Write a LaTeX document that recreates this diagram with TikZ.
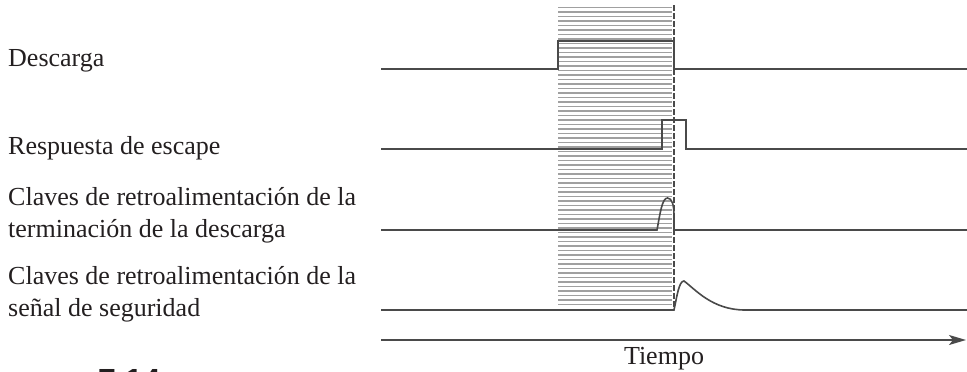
\documentclass[tikz,border=0pt]{standalone}
\usepackage{fontspec}
\setmainfont{Liberation Serif}
\newfontfamily\fignumfont{Liberation Sans}
\usetikzlibrary{arrows.meta}
\definecolor{sig}{HTML}{4A4A4A}
\definecolor{hatch}{HTML}{A0A0A0}
\definecolor{txt}{HTML}{231F20}
\begin{document}
\begin{tikzpicture}[x=1pt,y=-1pt,
  lbl/.style={anchor=base west,inner sep=0pt,text=txt,font=\fontsize{26}{32}\selectfont},
  signal/.style={draw=sig,line width=1.6pt,line join=miter},
  hatchline/.style={draw=hatch,line width=1.4pt},
  boundary/.style={draw=sig,line width=1.7pt,dash pattern=on 6pt off 2pt},
  axis/.style={draw=sig,line width=1.5pt,-{Stealth[length=17pt,width=10pt,inset=4pt]}}]
\useasboundingbox (0,0) rectangle (967,372);
% hatched interval
\foreach \k in {0,...,66}{
  \draw[hatchline] (558,{7.5+4.5*\k}) -- (672,{7.5+4.5*\k});
}
% coordinates
\coordinate (s1a) at (381,69); \coordinate (s1b) at (967,69);
\coordinate (s2a) at (381,149); \coordinate (s2b) at (967,149);
\coordinate (s3a) at (381,230); \coordinate (s3b) at (967,230);
\coordinate (s4a) at (381,310); \coordinate (s4b) at (967,310);
\coordinate (ta) at (381,340); \coordinate (tb) at (966,340);
\coordinate (dtop) at (674,5); \coordinate (dbot) at (674,310);
% signals
\draw[signal] (s1a) -- (558,69) -- (558,41) -- (674,41) -- (674,69) -- (s1b);
\draw[signal] (s2a) -- (662,149) -- (662,120) -- (686,120) -- (686,149) -- (s2b);
\draw[signal] (s3a) -- (657,230) .. controls (660,214) and (662,198) .. (667.5,198)
  .. controls (672,198) and (674,205) .. (674,216) -- (674,230) -- (s3b);
\draw[signal] (s4a) -- (674,310) .. controls (677,296) and (679,281) .. (684,281)
  .. controls (695,289) and (712,310) .. (745,310) -- (s4b);
% boundary of the interval
\draw[boundary] (dtop) -- (dbot);
% time axis
\draw[axis] (ta) -- (tb);
% labels
\node[lbl] (l1) at (8,66) {Descarga};
\node[lbl] (l2) at (8,154) {Respuesta de escape};
\node[lbl] (l3a) at (8,205) {Claves de retroalimentación de la};
\node[lbl] (l3b) at (8,237) {terminación de la descarga};
\node[lbl] (l4a) at (8,284) {Claves de retroalimentación de la};
\node[lbl] (l4b) at (8,316) {señal de seguridad};
\node[lbl,anchor=base] (tl) at (664,364) {Tiempo};
\node[anchor=base west,inner sep=0pt,text=txt,font=\fignumfont\bfseries\fontsize{32}{36}\selectfont] (fig) at (98,391) {7.14};
\end{tikzpicture}
\end{document}
